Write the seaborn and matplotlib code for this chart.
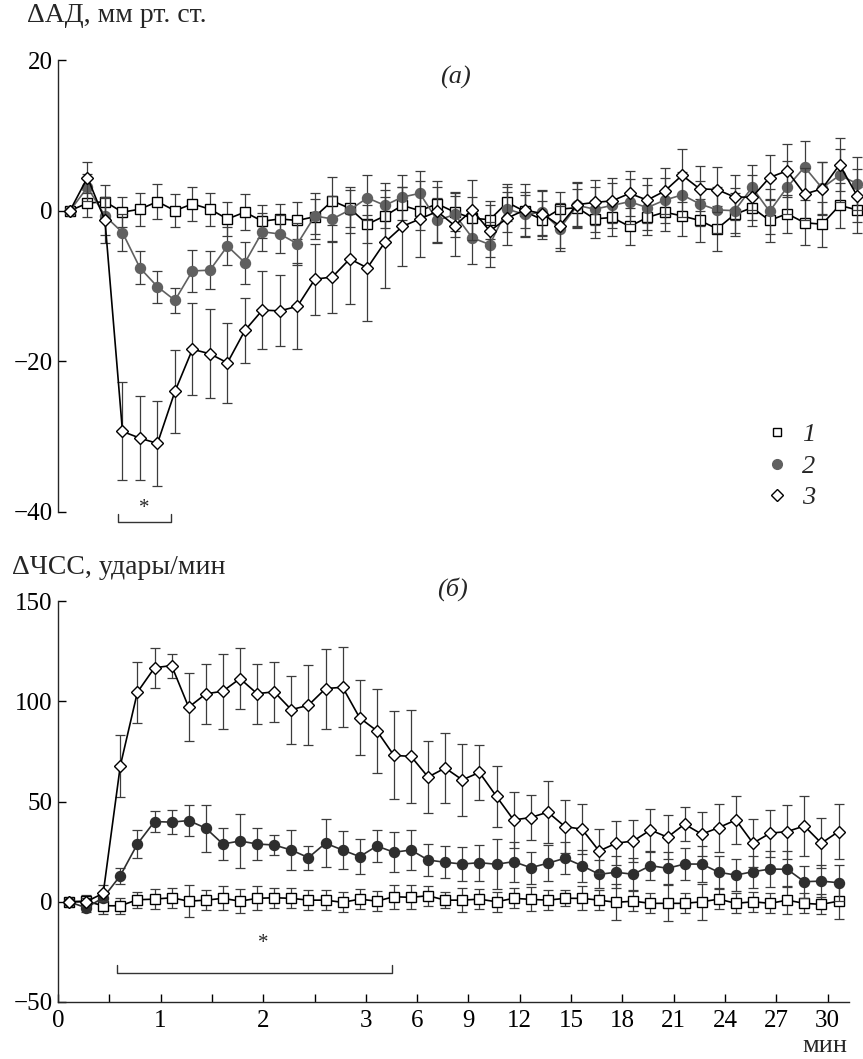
import numpy as np
import matplotlib
matplotlib.use("Agg")
import matplotlib.pyplot as plt
from matplotlib.lines import Line2D
import seaborn as sns

# ---------------- data ----------------
# sample index (46 samples: every 10 s for first 3 min, then every 1 min)
n_samples = 46
tick_minutes = [0, 1, 2, 3, 6, 9, 12, 15, 18, 21, 24, 27, 30]
minor_minutes = [0.5, 1.5, 2.5]
series_labels = ["1", "2", "3"]

# (a) delta blood pressure, mm Hg
bp_1 = [0, 1.0, 1.2, -0.2, 0.2, 1.2, 0, 0.9, 0.2, -1.1, -0.2, -1.4, -1.1, -1.3, -0.8, 1.3,
        0.3, -1.8, -0.7, 0.7, 0.0, 0.9, -0.2, -1.0, -1.2, 1.1, -0.1, -1.2, 0.2, 0.4, -1.1,
        -0.9, -2.1, -0.9, -0.2, -0.7, -1.3, -2.4, -0.5, 0.4, -1.3, -0.4, -1.6, -1.8, 0.7, 0.1]
bp_1_err = [0, 1.8, 2.2, 2.0, 2.2, 2.3, 2.2, 2.3, 2.2, 2.3, 2.4, 2.2, 2.0, 2.4, 2.3, 3.2,
            2.5, 2.5, 3.5, 2.5, 2.5, 2.2, 2.5, 2.8, 2.5, 2.5, 2.2, 2.5, 2.3, 2.5, 2.5,
            2.5, 2.5, 2.3, 2.5, 2.7, 2.8, 3.0, 2.8, 2.5, 2.8, 2.5, 3.0, 3.0, 3.0, 3.0]
bp_2 = [0, 3.1, -0.7, -2.9, -7.6, -10.1, -11.9, -8.0, -7.9, -4.7, -6.9, -2.8, -3.1, -4.4,
        -0.7, -1.1, 0.1, 1.7, 0.7, 1.8, 2.3, -1.3, -0.5, -3.6, -4.5, 0.2, -0.5, -0.2, -2.4,
        0.7, 0.2, 0.7, 1.2, 0.4, 1.4, 2.1, 0.9, 0.1, 0.0, 3.1, -0.1, 3.1, 5.8, 3.0, 4.7, 3.6]
bp_2_err = [0, 1.8, 2.5, 2.5, 2.2, 2.1, 1.7, 2.8, 2.5, 2.5, 2.8, 2.5, 2.5, 2.8, 3.0, 3.0,
            3.0, 3.0, 3.0, 3.0, 3.0, 3.0, 3.0, 3.5, 3.0, 3.0, 3.0, 3.0, 3.0, 3.0, 3.0,
            3.0, 3.0, 3.0, 3.0, 3.0, 3.0, 3.0, 3.0, 3.0, 3.0, 3.5, 3.5, 3.5, 3.5, 3.5]
bp_3 = [0, 4.4, -1.3, -29.3, -30.2, -30.9, -24.0, -18.4, -19.0, -20.2, -15.9, -13.2, -13.3,
        -12.7, -9.1, -8.8, -6.4, -7.6, -4.2, -2.1, -1.1, -0.1, -2.0, 0.1, -2.7, -1.0, 0.1,
        -0.4, -2.0, 0.8, 1.1, 1.3, 2.3, 1.4, 2.6, 4.7, 2.9, 2.8, 1.8, 1.8, 4.4, 5.3, 2.2,
        2.9, 6.1, 2.0]
bp_3_err = [0, 2.0, 3.0, 6.5, 5.6, 5.7, 5.5, 6.1, 5.9, 5.3, 4.3, 5.2, 4.7, 5.7, 4.7, 4.8,
            6.0, 7.0, 6.0, 5.3, 5.0, 4.0, 4.0, 4.0, 3.5, 3.5, 3.5, 3.0, 3.0, 3.0, 3.0,
            3.0, 3.0, 3.0, 3.0, 3.5, 3.0, 3.0, 3.0, 3.0, 3.0, 3.5, 3.5, 3.5, 3.5, 3.5]

# (b) delta heart rate, beats/min
hr_1 = [0, 0.3, -2, -2, 1, 1.3, 2, 0.3, 0.8, 1.7, 0.3, 1.7, 2, 1.7, 0.8, 0.8, -0.3, 1.3,
        0.3, 2.5, 2.2, 3, 0.8, 0.8, 1.3, 0, 1.7, 1.2, 0.8, 1.7, 1.7, 0.8, -0.3, 0.3, -0.8,
        -0.8, -0.8, 0, 1.3, -0.8, 0, -0.8, 0.8, -0.8, -1.3, 0.3]
hr_1_err = [0, 3, 4, 4, 4, 5, 5, 8, 5, 6, 6, 6, 5, 5, 5, 5, 5, 5, 5, 6, 6, 5, 4, 6, 5, 5,
            5, 6, 5, 4, 6, 5, 9, 5, 5, 9, 5, 9, 5, 5, 5, 5, 7, 5, 5, 9]
hr_2 = [0, -3, 2, 13, 28.8, 40, 39.7, 40.5, 36.7, 28.8, 30.3, 28.8, 28.3, 25.8, 22, 29.2,
        25.8, 22.5, 27.8, 24.7, 25.8, 20.8, 19.7, 18.8, 19.5, 18.7, 20, 17, 19.2, 21.7, 18,
        13.7, 14.7, 13.7, 18, 16.7, 18.8, 18.8, 14.7, 13.3, 15, 16.3, 16.2, 10, 10.3, 9.5]
hr_2_err = [0, 2, 2, 4, 7, 5.4, 6, 7.8, 11.8, 8, 13.5, 8, 5, 10, 6, 12, 9.5, 8.6, 8, 10, 10,
            8, 8, 8.3, 9, 12.5, 10, 8, 9, 8, 8, 7, 8, 8, 7, 8, 8, 9, 8, 8, 8, 9, 9, 8, 8, 9]
hr_3 = [0, 0, 4.2, 67.8, 104.5, 116.7, 117.8, 97, 103.7, 105, 111.3, 103.8, 104.7, 95.8, 98,
        106.3, 107, 91.7, 85.3, 73, 72.5, 62.2, 66.7, 60.8, 64.5, 52.5, 40.8, 42, 44.7, 37.5,
        36.2, 25.3, 29.2, 30.3, 35.8, 32.2, 38.7, 33.7, 37, 40.8, 29.2, 34.2, 35, 37.8, 29.2, 35]
hr_3_err = [0, 2, 4, 15.4, 15.3, 10, 6, 17, 15, 18.6, 15.4, 15, 15, 17, 20, 20, 20, 18.7,
            21, 22, 23, 17.9, 17.5, 18, 13.75, 15, 14, 11, 15.4, 13, 12.5, 11, 11, 10.5,
            10.5, 11, 8.5, 11, 12, 12, 12, 11.7, 13.5, 15, 12.5, 13.75]

# ---------------- style ----------------
sns.set_style("ticks")
FONT = "Liberation Serif"
plt.rcParams["font.family"] = [FONT, "DejaVu Serif"]
plt.rcParams["axes.unicode_minus"] = True
FS = 18
FS_TITLE = 20

W, H = 863, 1059
fig = plt.figure(figsize=(W / 100, H / 100), dpi=100)

def fx(px):
    return px / W

def fy(py):
    return 1 - py / H

LEFT, RIGHT = 58, 849
ax_a = fig.add_axes([fx(LEFT), fy(512), fx(RIGHT - LEFT), (512 - 60) / H])
ax_b = fig.add_axes([fx(LEFT), fy(1002), fx(RIGHT - LEFT), (1002 - 601) / H])

idx = np.arange(n_samples)

ERR_C = "#3c3c3c"
C2_TOP = "#606060"
C2_BOT = "#2e2e2e"

def draw_series(ax, y, err, marker, face, edge, lcolor, ms, z):
    eb = ax.errorbar(idx, y, yerr=err, fmt="none", ecolor=ERR_C, elinewidth=0.9,
                     capsize=3.6, capthick=0.9, zorder=z - 1)
    for ch in eb.get_children():
        ch.set_clip_on(False)
    sns.lineplot(x=idx, y=y, ax=ax, color=lcolor, linewidth=1.2, marker=marker,
                 markersize=ms, markerfacecolor=face, markeredgecolor=edge,
                 markeredgewidth=1.0, clip_on=False, zorder=z, legend=False)

# panel a
draw_series(ax_a, bp_1, bp_1_err, "s", "white", "black", "black", 6.8, 4)
draw_series(ax_a, bp_2, bp_2_err, "o", C2_TOP, C2_TOP, C2_TOP, 7.2, 6)
draw_series(ax_a, bp_3, bp_3_err, "D", "white", "black", "black", 6.5, 8)

# panel b
draw_series(ax_b, hr_1, hr_1_err, "s", "white", "black", "black", 6.8, 4)
draw_series(ax_b, hr_2, hr_2_err, "o", C2_BOT, C2_BOT, C2_BOT, 7.2, 6)
draw_series(ax_b, hr_3, hr_3_err, "D", "white", "black", "black", 6.5, 8)

# x scale: pixel positions of samples differ slightly between panels
ax_a.set_xlim(-12 / 17.49, (RIGHT - 70) / 17.49)
x0_b = -11 / 17.1
ax_b.set_xlim(x0_b, (RIGHT - 69) / 17.1)

def minute_to_pos(m):
    m = np.asarray(m, dtype=float)
    return np.where(m <= 3, x0_b + 6 * m, x0_b + 18 + (m - 3))

ax_a.set_ylim(-40, 20)
ax_b.set_ylim(-50, 150)

ax_a.set_yticks([20, 0, -20, -40])
ax_b.set_yticks([150, 100, 50, 0, -50])
ax_b.set_xticks(minute_to_pos(tick_minutes))
ax_b.set_xticklabels([str(m) for m in tick_minutes])
ax_b.set_xticks(minute_to_pos(minor_minutes), minor=True)

for ax in (ax_a, ax_b):
    ax.set_xlabel("")
    ax.set_ylabel("")
    for s in ("top", "right"):
        ax.spines[s].set_visible(False)
    ax.spines["left"].set_linewidth(1.0)
    ax.spines["bottom"].set_linewidth(1.0)
    ax.tick_params(axis="both", which="both", direction="in", length=6, width=1.0,
                   labelsize=FS, pad=4, colors="black")
    for lab in ax.get_yticklabels() + ax.get_xticklabels():
        lab.set_fontfamily(FONT)
    ax.set_facecolor("none")

ax_a.spines["bottom"].set_visible(False)
ax_a.tick_params(axis="x", which="both", bottom=False, labelbottom=False)
ax_b.tick_params(axis="x", which="major", pad=6)

# titles / axis texts
fig.text(fx(27), fy(16), "ΔАД, мм рт. ст.", fontsize=FS_TITLE, ha="left", va="center")
fig.text(fx(12), fy(567), "ΔЧСС, удары/мин", fontsize=FS_TITLE, ha="left", va="center")
fig.text(fx(455), fy(77), "(а)", fontsize=FS_TITLE - 1, ha="center", va="center",
         style="italic")
fig.text(fx(452), fy(589), "(б)", fontsize=FS_TITLE - 1, ha="center", va="center",
         style="italic")
fig.text(fx(825), fy(1046), "мин", fontsize=FS_TITLE - 1, ha="center", va="center")

# significance brackets
ax_a.plot([2.74, 2.74, 5.77, 5.77], [-40.2, -41.3, -41.3, -40.2], color="#333333",
          lw=1.0, clip_on=False)
ax_a.text(4.23, -39.6, "*", fontsize=15, ha="center", va="center", clip_on=False)
ax_b.plot([2.8, 2.8, 18.9, 18.9], [-31.4, -35.4, -35.4, -31.4], color="#333333",
          lw=1.0, clip_on=False)
ax_b.text(11.35, -21.0, "*", fontsize=15, ha="center", va="center")

# legend
handles = [
    Line2D([], [], linestyle="none", marker="s", markersize=6, markerfacecolor="white",
           markeredgecolor="black", markeredgewidth=1.0),
    Line2D([], [], linestyle="none", marker="o", markersize=7, markerfacecolor=C2_TOP,
           markeredgecolor=C2_TOP),
    Line2D([], [], linestyle="none", marker="D", markersize=6, markerfacecolor="white",
           markeredgecolor="black", markeredgewidth=1.0),
]
fig.legend(handles, series_labels, loc="center left", bbox_to_anchor=(fx(764), fy(466)),
           frameon=False, handlelength=1.0, handletextpad=0.45, labelspacing=0.3,
           borderpad=0, borderaxespad=0,
           prop={"family": FONT, "style": "italic", "size": FS + 1})

fig.savefig("out.png", dpi=100, facecolor="white")
